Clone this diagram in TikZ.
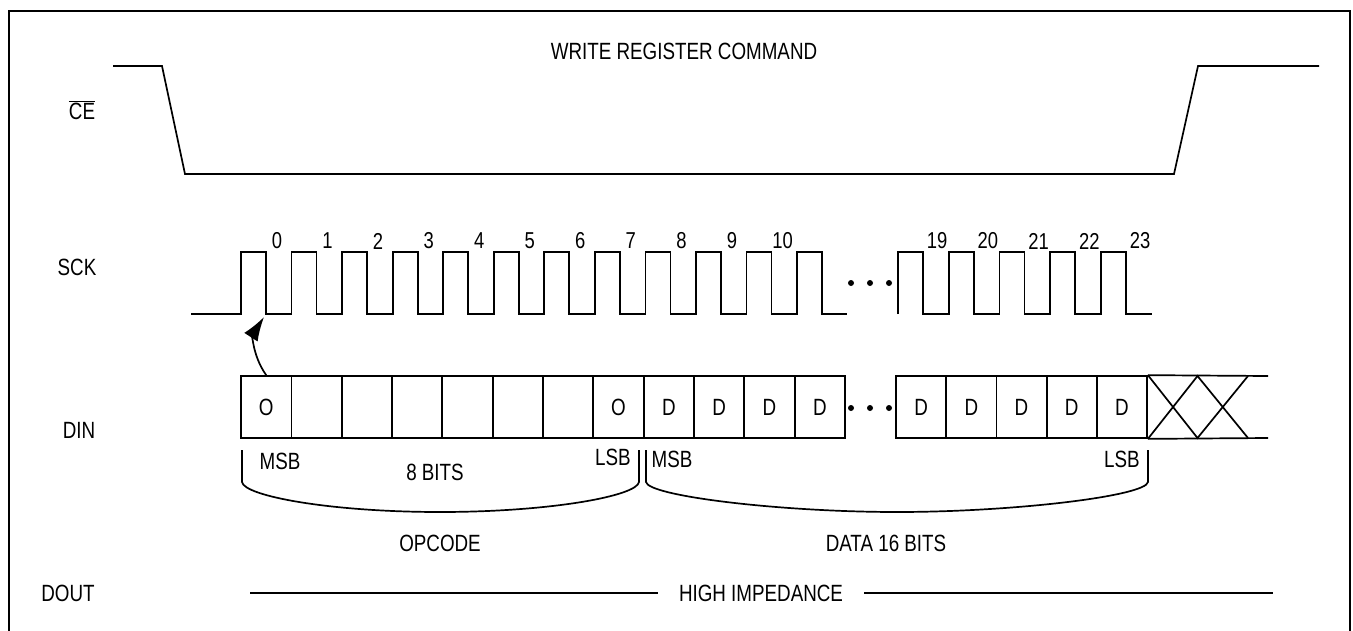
\documentclass[tikz,border=0pt]{standalone}
\usepackage{fontspec}
\setmainfont[FakeStretch=0.8]{Liberation Sans}
\usetikzlibrary{arrows.meta,calc}

\tikzset{
  sig/.style={line width=1.7pt},
  lbl/.style={font=\fontsize{23.5}{26}\selectfont, inner sep=0pt},
  num/.style={font=\fontsize{23}{25}\selectfont, inner sep=0pt},
  cell/.style={draw, line width=1.7pt, minimum width=50.3pt, minimum height=62pt,
    inner sep=0pt, font=\fontsize{23.5}{26}\selectfont}
}

\begin{document}
\begin{tikzpicture}[x=1pt, y=-1pt]
\useasboundingbox (0,0) rectangle (1353,630);
\draw [line width=2.5pt] (9,640) -- (9,11) -- (1350,11) -- (1350,640);

\node[lbl] at (684,51) (title) {WRITE REGISTER COMMAND};

% signal names
\node[lbl] at (82,110) (ce) {$\overline{\hbox{CE}}$};
\node[lbl] at (77,267) (sck) {SCK};
\node[lbl] at (79,430) (din) {DIN};
\node[lbl] at (68,593) (dout) {DOUT};

% chip enable
\draw [sig] (113,66) -- (162,66) -- (185,174) -- (1174,174) -- (1198,66) -- (1319,66);

% clock
\draw [sig] (191,314) foreach \k in {0,...,11} {
  -- ({241+50.55*\k},314) -- ({241+50.55*\k},252) -- ({266+50.55*\k},252) -- ({266+50.55*\k},314)
  } -- (847,314);
\draw [sig] (898,314) foreach \k in {0,...,4} {
  -- ({898+50.75*\k},314) -- ({898+50.75*\k},252) -- ({923+50.75*\k},252) -- ({923+50.75*\k},314)
  } -- (1152,314);
\foreach \k in {0,...,10}
  \node[num] at ({277+50.55*\k},241) (n\k) {\k};
\foreach \k [count=\j from 0] in {19,...,23}
  \node[num] at ({937+50.75*\j},241) (n\k) {\k};
\coordinate (fall0) at (264,317);

% data in
\foreach \i/\t in {0/O,1/{},2/{},3/{},4/{},5/{},6/{},7/O,8/D,9/D,10/D,11/D}
  \node[cell] at ({266.2+50.33*\i},407) (din\i) {\t};
\foreach \i in {0,...,4}
  \node[cell] at ({921.1+50.2*\i},407) (dd\i) {D};
\draw [sig] (dd4.north east) -- (1268,376) (dd4.south east) -- (1268,438);
\draw [sig] (dd4.north east) -- (1197.5,438) -- (1248,376);
\draw [sig] (dd4.south east) -- (1197.5,376) -- (1248,438);
\foreach \x in {851,870,889} {
  \fill (\x,283) circle (3pt);
  \fill (\x,408) circle (3pt);
}
\draw [sig, -{Latex[length=24pt,width=16pt]}] (din0.north) .. controls (252,355) and (253,334) .. (fall0);

% fields
\draw [sig] (242,450) -- (242,482) .. controls (244,496) and (330,512) .. (440,512)
  .. controls (550,512) and (637,496) .. (639,482) -- (639,450);
\draw [sig] (646,450) -- (646,482) .. controls (648,496) and (780,512) .. (897,512)
  .. controls (1014,512) and (1146,496) .. (1148,482) -- (1148,450);
\node[lbl] at (280,461) (msb1) {MSB};
\node[lbl] at (435,472) (bits8) {8 BITS};
\node[lbl] at (613,457) (lsb1) {LSB};
\node[lbl] at (672,459) (msb2) {MSB};
\node[lbl] at (1122,459) (lsb2) {LSB};
\node[lbl] at (440,543) (opcode) {OPCODE};
\node[lbl] at (886,543) (data) {DATA 16 BITS};

% data out
\node[lbl, inner xsep=21pt] at (761,593) (himp) {HIGH IMPEDANCE};
\draw [sig] (250,593) -- (himp.west);
\draw [sig] (himp.east) -- (1273,593);

\end{tikzpicture}
\end{document}
